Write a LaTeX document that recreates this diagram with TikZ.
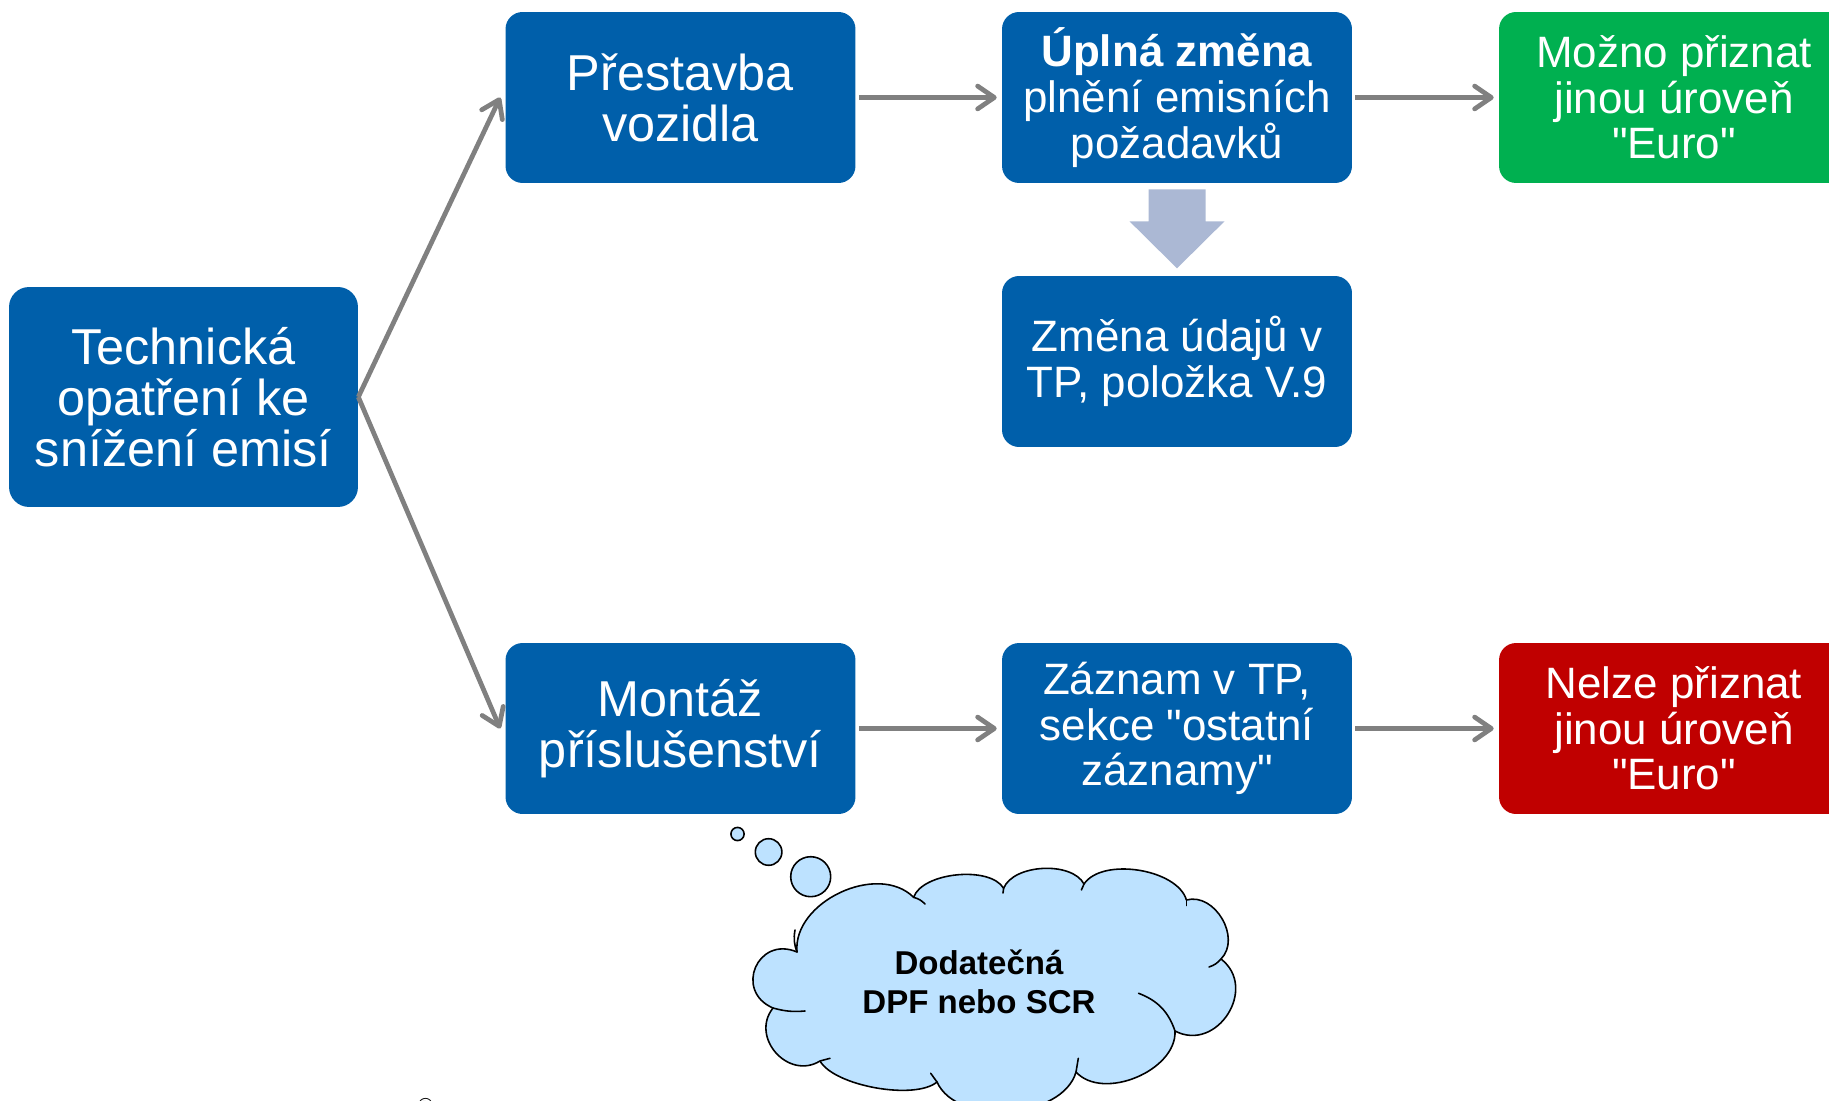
\documentclass[tikz,border=0pt]{standalone}
\usepackage{fontspec}
\setmainfont{Liberation Sans}[Ligatures=TeXOff]
\usetikzlibrary{arrows.meta,calc}

\definecolor{boxblue}{RGB}{0,95,170}
\definecolor{okgreen}{RGB}{0,176,80}
\definecolor{nored}{RGB}{192,0,0}
\definecolor{arrowgray}{RGB}{128,128,128}
\definecolor{blockarrow}{RGB}{171,184,212}
\definecolor{cloudblue}{RGB}{189,226,255}

\tikzset{
  box/.style={rectangle, rounded corners=0.34cm, minimum width=7cm, minimum height=3.42cm,
    inner sep=0pt, align=center, text=white, fill=boxblue,
    font=\fontsize{28.7}{29}\selectfont},
  tightlines/.style={font=\fontsize{25}{26}\selectfont},
  flow/.style={draw=arrowgray, line width=2.7pt,
    -{Straight Barb[length=9.5pt,width=13pt,round]}},
  cloudline/.style={draw=black, line width=0.9pt, line cap=round, line join=round},
  cloudbody/.style={cloudline, fill=cloudblue},
}

\begin{document}
\begin{tikzpicture}[x=0.02cm, y=-0.02cm]
\useasboundingbox (0,0) rectangle (1829,1101);
\clip (0,0) rectangle (1829,1101);

% boxes
\node[box, minimum width=6.98cm, minimum height=4.4cm, rounded corners=0.4cm] (tech) at (183.5,397)
  {Technická\\opatření ke\\snížení emisí};
\node[box] (prest) at (680.5,97.5) {Přestavba\\vozidla};
\node[box, tightlines] (uplna) at (1177,97.5) {\textbf{Úplná změna}\\plnění emisních\\požadavků};
\node[box, tightlines, fill=okgreen] (mozno) at (1674,97.5) {Možno přiznat\\jinou úroveň\\"Euro"};
\node[box, tightlines] (zmena) at (1177,361.5) {Změna údajů v\\TP, položka V.9};
\node[box] (montaz) at (680.5,728.5) {Montáž\\příslušenství};
\node[box, tightlines] (zaznam) at (1177,728.5) {Záznam v TP,\\sekce "ostatní\\záznamy"};
\node[box, tightlines, fill=nored] (nelze) at (1674,728.5) {Nelze přiznat\\jinou úroveň\\"Euro"};

% connectors
\draw[flow] (tech.east) -- ([xshift=-0.1cm]prest.west);
\draw[flow] (tech.east) -- ([xshift=-0.1cm]montaz.west);
\draw[flow] ([xshift=0.06cm]prest.east) -- ([xshift=-0.1cm]uplna.west);
\draw[flow] ([xshift=0.06cm]uplna.east) -- ([xshift=-0.1cm]mozno.west);
\draw[flow] ([xshift=0.06cm]montaz.east) -- ([xshift=-0.1cm]zaznam.west);
\draw[flow] ([xshift=0.06cm]zaznam.east) -- ([xshift=-0.1cm]nelze.west);

% block arrow down to the registration change
\fill[blockarrow] ($(uplna.south)+(-28.5,6)$) -- ++(57,0) -- ++(0,32) -- ++(19,0)
  -- ++(-47.5,47) -- ++(-47.5,-47) -- ++(19,0) -- cycle;

% thought cloud
\coordinate (J1) at (797,952);
\coordinate (J2) at (913.6,897.3);
\coordinate (J3) at (1003.6,888.3);
\coordinate (J4) at (1084,884);
\coordinate (J5) at (1186.4,900);
\coordinate (J6) at (1221,959);
\coordinate (J7) at (1175,1031);
\coordinate (J8) at (1076,1072);
\coordinate (J9) at (937,1082);
\coordinate (J10) at (820,1061);
\coordinate (J11) at (773,1008);

\path[cloudbody] (J1)
  to[bend left=70, looseness=1.0] (J2)
  to[bend left=65, looseness=0.75] (J3)
  to[bend left=65, looseness=0.83] (J4)
  to[bend left=65, looseness=0.8] (J5)
  to[bend left=75, looseness=1.1] (J6)
  to[bend left=85, looseness=1.42] (J7)
  to[bend left=70, looseness=0.95] (J8)
  to[bend left=70, looseness=0.9] (J9)
  to[bend left=50, looseness=0.62] (J10)
  to[bend left=80, looseness=1.35] (J11)
  to[bend left=90, looseness=1.8] (J1) -- cycle;

% inner puff creases
\draw[cloudline] (J1) to[bend left=15] (795,930);
\draw[cloudline] (J2) to[bend left=15] (925,904);
\draw[cloudline] (J3) -- (1003,893);
\draw[cloudline] (J4) -- (1081.4,890);
\draw[cloudline] (J5) -- (1186.4,905.5);
\draw[cloudline] (J6) to[bend left=15] (1209,967);
\draw[cloudline] (1138.6,993.3) to[bend left=25] (J7);
\draw[cloudline] (J8) -- (1078.3,1058.3);
\draw[cloudline] (J9) -- (930.7,1073.3);
\draw[cloudline] (J10) -- (830,1058.3);
\draw[cloudline] (J11) to[bend right=10] (805,1011);

% thought bubbles
\path[cloudbody] (737.5,834) circle[radius=6.6];
\path[cloudbody] (768.6,852) circle[radius=13.3];
\path[cloudbody] (810.7,876.7) circle[radius=20];

\node[font=\fontsize{18.8}{22}\selectfont\bfseries, align=center, inner sep=0pt] (cloudtext)
  at (979,981.5) {Dodatečná\\DPF nebo SCR};

\node[font=\fontsize{11.5}{12}\selectfont, anchor=base, inner sep=0pt] (regmark) at (425.5,1112) {®};
\end{tikzpicture}
\end{document}
